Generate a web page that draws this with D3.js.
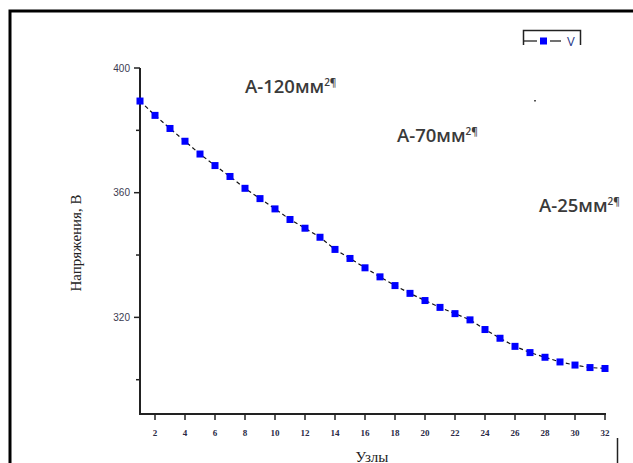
<!DOCTYPE html>
<html>
<head>
<meta charset="utf-8">
<script src="https://cdn.jsdelivr.net/npm/d3@7"></script>
<style>
  body { margin: 0; background: #fff; }
  svg { display: block; }
</style>
</head>
<body>
<div id="chart-area"></div>
<script>
// data
const nodes = d3.range(1, 33);
const voltage = [389.4, 384.8, 380.6, 376.5, 372.4, 368.7, 365.2, 361.4, 358.1, 354.8,
  351.4, 348.6, 345.7, 341.8, 338.9, 335.9, 333.0, 330.2, 327.7, 325.4,
  323.2, 321.2, 319.2, 316.1, 313.3, 310.7, 308.7, 307.2, 305.7, 304.7,
  303.9, 303.6];
const yMajor = [320, 360, 400];
const yMinor = [300, 340, 380];
const xTicks = d3.range(2, 33, 2);
const notes = [
  { label: 'А-120мм', x: 245, y: 93 },
  { label: 'А-70мм', x: 397, y: 142 },
  { label: 'А-25мм', x: 539, y: 212 }
];

const W = 633, H = 463;
let svg = d3.select('#chart-area').append('svg')
  .attr('width', W)
  .attr('height', H);

// outer frame
svg.append('path')
  .attr('d', 'M10,463 V11 H633')
  .attr('fill', 'none')
  .attr('stroke', '#000')
  .attr('stroke-width', 3);
svg.append('line')
  .attr('x1', 617.5).attr('x2', 617.5)
  .attr('y1', 438).attr('y2', 463)
  .attr('stroke', '#222').attr('stroke-width', 1.5);

// scales
let x = d3.scaleLinear().domain([1, 32]).range([140, 605]);
let y = d3.scaleLinear().domain([400, 289]).range([68, 414]);

// y axis
let yAxis = svg.append('g');
yAxis.append('line')
  .attr('x1', 140).attr('x2', 140)
  .attr('y1', y(400)).attr('y2', 415)
  .attr('stroke', '#222').attr('stroke-width', 2);
yAxis.selectAll('.maj').data(yMajor).enter().append('line')
  .attr('x1', 134).attr('x2', 140)
  .attr('y1', d => y(d)).attr('y2', d => y(d))
  .attr('stroke', '#222').attr('stroke-width', 1.5);
yAxis.selectAll('.min').data(yMinor).enter().append('line')
  .attr('x1', 136).attr('x2', 140)
  .attr('y1', d => y(d)).attr('y2', d => y(d))
  .attr('stroke', '#222').attr('stroke-width', 1.5);
yAxis.selectAll('text').data(yMajor).enter().append('text')
  .attr('x', 130)
  .attr('y', d => y(d) + 3.5)
  .attr('text-anchor', 'end')
  .attr('font-family', 'Liberation Sans, Arial, sans-serif')
  .attr('font-size', '10px')
  .attr('fill', '#3a3a50')
  .text(d => d);

// x axis
let xAxis = svg.append('g');
xAxis.append('line')
  .attr('x1', 139).attr('x2', 606)
  .attr('y1', 414).attr('y2', 414)
  .attr('stroke', '#222').attr('stroke-width', 2);
xAxis.selectAll('.tk').data(xTicks).enter().append('line')
  .attr('x1', d => x(d)).attr('x2', d => x(d))
  .attr('y1', 414).attr('y2', 420)
  .attr('stroke', '#222').attr('stroke-width', 1.5);
xAxis.selectAll('text').data(xTicks).enter().append('text')
  .attr('x', d => x(d))
  .attr('y', 436)
  .attr('text-anchor', 'middle')
  .attr('font-family', 'Liberation Serif, Times New Roman, serif')
  .attr('font-weight', 'bold')
  .attr('font-size', '9px')
  .attr('fill', '#2a2a45')
  .text(d => d);

// axis titles
svg.append('text')
  .attr('transform', 'translate(81,243) rotate(-90)')
  .attr('text-anchor', 'middle')
  .attr('font-family', 'Liberation Serif, Times New Roman, serif')
  .attr('font-size', '15px')
  .attr('fill', '#222')
  .text('Напряжения, В');
svg.append('text')
  .attr('x', 372)
  .attr('y', 462)
  .attr('text-anchor', 'middle')
  .attr('font-family', 'Liberation Serif, Times New Roman, serif')
  .attr('font-size', '15px')
  .attr('fill', '#222')
  .text('Узлы');

// series
let pts = nodes.map((n, i) => [n, voltage[i]]);
svg.append('path')
  .datum(pts)
  .attr('d', d3.line().x(d => x(d[0])).y(d => y(d[1])))
  .attr('fill', 'none')
  .attr('stroke', '#111')
  .attr('stroke-width', 1.2)
  .attr('stroke-dasharray', '4,3');
svg.selectAll('.pt').data(pts).enter().append('rect')
  .attr('x', d => x(d[0]) - 3.5)
  .attr('y', d => y(d[1]) - 3.5)
  .attr('width', 7).attr('height', 7)
  .attr('fill', '#0000ff');

// annotations
notes.forEach(n => {
  let t = svg.append('text')
    .attr('x', n.x).attr('y', n.y)
    .attr('font-family', 'Open Sans, Noto Sans, sans-serif')
    .attr('font-size', '18.5px')
    .attr('font-weight', 600)
    .attr('fill', '#3a3a3a')
    .text(n.label);
  t.append('tspan')
    .attr('dy', -7)
    .attr('font-size', '10px')
    .text('2¶');
});
svg.append('rect')
  .attr('x', 534).attr('y', 100).attr('width', 2).attr('height', 1.5)
  .attr('fill', '#555');

// legend
svg.append('path')
  .attr('d', 'M523.5,45 V30.5 H580.5 V45')
  .attr('fill', 'none')
  .attr('stroke', '#222')
  .attr('stroke-width', 1.5);
svg.append('line')
  .attr('x1', 524).attr('x2', 537).attr('y1', 41).attr('y2', 41)
  .attr('stroke', '#111').attr('stroke-width', 1.2);
svg.append('line')
  .attr('x1', 550).attr('x2', 561).attr('y1', 41).attr('y2', 41)
  .attr('stroke', '#111').attr('stroke-width', 1.2);
svg.append('rect')
  .attr('x', 540).attr('y', 37.5).attr('width', 7).attr('height', 7)
  .attr('fill', '#0000ff');
svg.append('text')
  .attr('x', 567).attr('y', 46)
  .attr('font-family', 'Open Sans, Noto Sans, sans-serif')
  .attr('font-size', '13px')
  .attr('fill', '#2a3a8a')
  .text('V');
</script>
</body>
</html>
